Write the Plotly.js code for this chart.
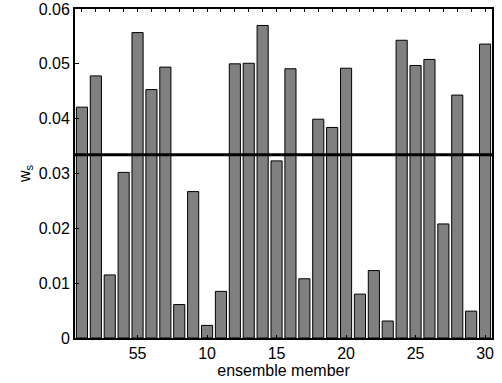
<!DOCTYPE html>
<html>
<head>
<meta charset="utf-8">
<script src="https://cdn.plot.ly/plotly-3.0.1.min.js"></script>
<style>html,body{margin:0;padding:0;background:#fff;}#chart{width:502px;height:383px;}</style>
</head>
<body>
<div id="chart"></div>
<script>
const members = [1,2,3,4,5,6,7,8,9,10,11,12,13,14,15,16,17,18,19,20,21,22,23,24,25,26,27,28,29,30];
const weights = [0.0421,0.0478,0.0115,0.0302,0.0557,0.0453,0.0494,0.0061,0.0267,0.0023,0.0085,0.0500,0.0501,0.0570,0.0323,0.0491,0.0108,0.0399,0.0384,0.0492,0.0080,0.0123,0.0031,0.0543,0.0497,0.0508,0.0208,0.0443,0.0049,0.0536];
const meanWeight = 0.0334;
const xTickVals = [5,10,15,20,25,30];
const xTickText = ["55","10","15","20","25","30"];
const yTickVals = [0,0.01,0.02,0.03,0.04,0.05,0.06];
const yTickText = ["0","0.01","0.02","0.03","0.04","0.05","0.06"];

const font = {family: "Liberation Sans, Arial, sans-serif", size: 16, color: "#000"};

const traces = [
  {type: "bar", x: members, y: weights, width: 0.8,
   marker: {color: "#808080", line: {color: "#000", width: 1}}, hoverinfo: "none"},
  {type: "scatter", mode: "lines", xaxis: "x2", x: [members[0]-0.5, members[members.length-1]+0.5], y: [meanWeight, meanWeight],
   line: {color: "#000", width: 3}, hoverinfo: "none"}
];

const layout = {
  width: 502, height: 383,
  margin: {l: 75, r: 10, t: 9, b: 45},
  paper_bgcolor: "#fff", plot_bgcolor: "#fff",
  showlegend: false,
  font: font,
  xaxis: {range: [0.5, 30.5], tickvals: xTickVals, ticktext: xTickText, ticks: "inside", ticklen: 3, tickwidth: 1, tickcolor: "#000",
          showline: true, linecolor: "#000", linewidth: 2, mirror: true, showgrid: false, zeroline: false,
          tickfont: font, title: {text: "ensemble member", font: font, standoff: 2}},
  xaxis2: {range: [0.5, 30.5], overlaying: "x", side: "top", anchor: "y", tickvals: members, showticklabels: false,
           ticks: "inside", ticklen: 3, tickwidth: 1, tickcolor: "#000", showline: false, showgrid: false, zeroline: false},
  yaxis: {range: [0, 0.06], tickvals: yTickVals, ticktext: yTickText, ticks: "inside", ticklen: 4, tickwidth: 1, tickcolor: "#000",
          showline: true, linecolor: "#000", linewidth: 2, mirror: true, showgrid: false, zeroline: false,
          tickfont: font, title: {text: "w<sub>s</sub>", font: font, standoff: 4}}
};

Plotly.newPlot("chart", traces, layout, {staticPlot: true, displayModeBar: false});
</script>
</body>
</html>
